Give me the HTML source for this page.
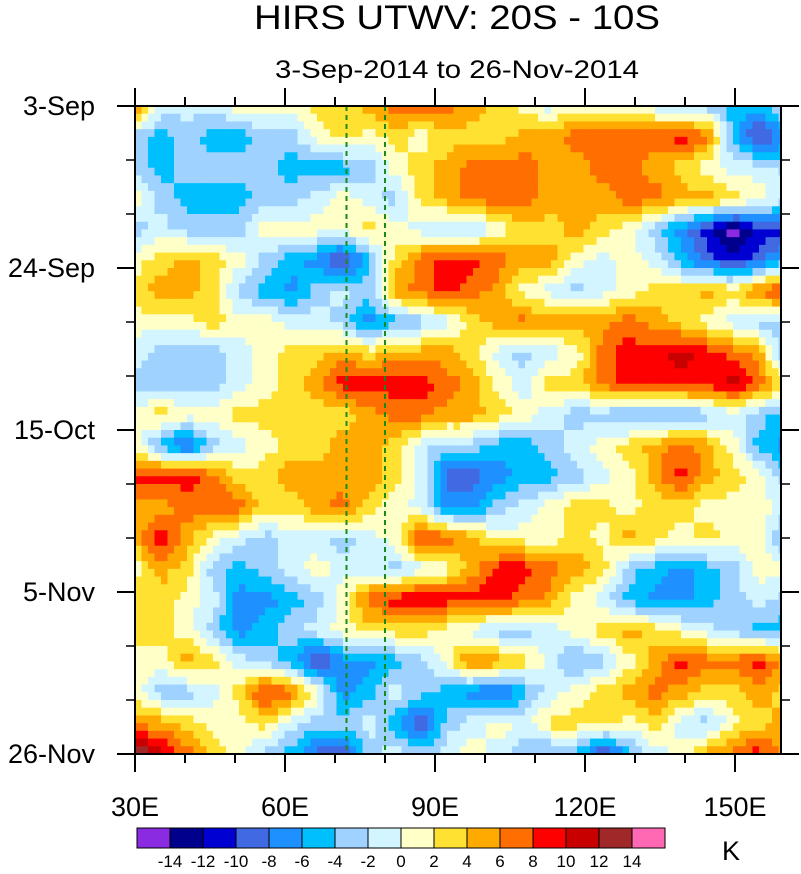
<!DOCTYPE html>
<html><head><meta charset="utf-8">
<style>
html,body{margin:0;padding:0;background:#fff;}
body{width:801px;height:869px;overflow:hidden;font-family:"Liberation Sans",Arial,sans-serif;}
svg text{font-family:"Liberation Sans",Arial,sans-serif;fill:#000;}
</style></head>
<body>
<svg id="chart" width="801" height="869" viewBox="0 0 801 869" xmlns="http://www.w3.org/2000/svg">
  <text x="457" y="29" font-size="34" text-anchor="middle" textLength="406" lengthAdjust="spacingAndGlyphs">HIRS UTWV: 20S - 10S</text>
  <text x="457" y="78" font-size="25" text-anchor="middle" textLength="364" lengthAdjust="spacingAndGlyphs">3-Sep-2014 to 26-Nov-2014</text>
  <defs><clipPath id="plotclip"><rect x="135" y="106" width="646" height="648"/></clipPath></defs>
  <g id="cells" clip-path="url(#plotclip)"></g>
  <g id="refs"></g>
  <rect x="135" y="106" width="646" height="648" fill="none" stroke="#000" stroke-width="2"/>
  <g id="axes"></g>
  <g id="cbar"></g>
  <text x="731" y="860" font-size="27" text-anchor="middle">K</text>
</svg>
<script>
// ---- data ----
const lons = [30,35.2,40.4,45.6,50.8,56,61.2,66.4,71.6,76.8,82,87.2,92.4,97.6,102.8,108,113.2,118.4,123.6,128.8,134,139.2,144.4,149.6,154.8,160];
const days = [0,4,8,12,16,20,24,28,32,36,40,44,48,52,56,60,64,68,72,76,80,84];
const tw = [
[7,-1,-1,-1,1,1,1,3,3,5,7,7,7,5,3,1,-1,1,-1,-1,-1,-3,-3,-5,-5,-1],
[-3,-5,-3,-5,-5,-3,-3,1,3,1,3,1,3,3,3,5,5,7,7,7,7,9,7,-5,-11,-7],
[-3,-5,-3,-3,-3,-3,-5,-5,-5,-3,1,3,5,7,7,7,5,5,7,7,5,3,1,-1,-1,-3],
[1,-3,-5,-5,-5,-3,-3,-1,1,-1,-3,3,5,7,7,7,5,5,5,7,7,5,5,3,1,-1],
[-3,-1,-3,-3,-3,1,1,1,1,3,1,-1,-3,-3,1,3,3,5,3,1,-3,-7,-11,-15,-11,-11],
[1,3,5,3,1,-3,-5,-7,-11,-5,3,7,9,9,7,5,5,1,-1,1,-1,-5,-9,-11,-9,-5],
[3,5,5,3,-3,-5,-7,-3,-1,-3,5,7,9,7,5,1,-1,-3,-1,1,3,3,5,3,7,9],
[1,1,1,3,1,1,-1,-1,-3,-7,-5,-3,-1,3,5,7,5,5,5,7,5,3,1,-1,-3,-3],
[-1,-3,-3,-3,-1,1,3,3,5,3,5,5,5,3,-1,-3,-1,1,7,9,9,11,9,7,5,-5],
[-3,-3,-3,-3,-1,1,3,5,9,9,9,9,7,5,1,-1,3,3,7,9,9,9,9,11,7,3],
[1,3,1,1,3,3,3,3,3,5,7,7,5,5,3,1,-1,-3,-3,-5,-5,-5,-3,-1,-3,-5],
[1,-5,-9,-3,-1,1,3,3,5,5,3,-1,-3,-3,-5,-5,-3,-1,1,3,5,7,5,1,-5,-7],
[9,9,9,7,3,3,5,5,5,5,3,-1,-9,-9,-7,-5,-5,-3,-1,1,5,9,5,3,1,-3],
[5,5,7,7,7,3,3,5,7,3,1,-1,-7,-7,-3,-1,1,3,3,1,3,3,1,1,1,-1],
[5,9,5,1,-1,-3,-1,-1,-3,-1,1,9,7,5,1,1,1,3,1,5,3,1,3,1,1,-5],
[1,5,3,-3,-5,-3,-1,1,-1,-1,-3,-1,1,5,9,9,7,5,3,-3,-5,-7,-5,-3,1,1],
[3,3,1,-1,-7,-7,-5,-3,1,7,9,11,9,9,9,7,5,1,-1,-5,-7,-7,-5,-3,-1,-3],
[3,3,1,-3,-7,-5,-3,-1,1,3,3,3,1,-1,-3,-3,-1,1,3,5,3,1,-1,-3,-5,-5],
[1,1,5,3,-1,-3,-5,-11,-7,-7,-5,-3,1,7,5,3,-1,-5,-3,1,5,9,7,7,9,5],
[1,-3,-3,-1,3,9,7,1,-7,-5,-1,-3,-5,-7,-9,-5,-1,1,3,5,7,5,3,3,5,3],
[5,5,3,1,1,3,-1,-3,-3,-1,-5,-11,-3,-1,1,-1,3,3,3,1,3,-1,-3,1,3,5],
[15,11,7,3,1,-3,-5,-9,-11,-3,-1,-3,-1,1,-1,-3,-5,-5,-11,-5,-1,1,5,7,9,5]
];
const levels = [-14,-12,-10,-8,-6,-4,-2,0,2,4,6,8,10,12,14];
const levelLabels = ["-14","-12","-10","-8","-6","-4","-2","0","2","4","6","8","10","12","14"];
const colors = ["#8a2be2","#00008c","#0000d2","#4169e1","#1e90ff","#00bfff","#a0d2ff","#d2f5ff","#ffffc8","#ffe132","#ffaa00","#ff6e00","#ff0000","#c80000","#a02828","#ff69b4"];
const refLons = [72.3,80];
const xTickLons = [30,40,50,60,70,80,90,100,110,120,130,140,150];
const xLabelLons = [30,60,90,120,150];
const xLabels = ["30E","60E","90E","120E","150E"];
const yLabelDays = [0,21,42,63,84];
const yLabels = ["3-Sep","24-Sep","15-Oct","5-Nov","26-Nov"];
const yMinorDays = [7,14,28,35,49,56,70,77];

// ---- scales ----
const X0=135, X1=781, Y0=106, Y1=754;
const xs = lon => X0 + (lon-30)*5.0;
const ys = d => Y0 + d*(Y1-Y0)/84;
function colorOf(v){let i=0;while(i<levels.length && v>=levels[i]) i++;return colors[i];}
const NS="http://www.w3.org/2000/svg";
function mk(tag,attrs,parent){const e=document.createElementNS(NS,tag);for(const k in attrs)e.setAttribute(k,attrs[k]);parent.appendChild(e);return e;}

// ---- field (bilinear subdivision of the grid for smoother contours) ----
const cells=document.getElementById('cells');
const SUB=4;
function val(lon,day){
  let fi=0;
  if(lon<=lons[0]) fi=0; else if(lon>=lons[lons.length-1]) fi=lons.length-1;
  else { let k=0; while(lons[k+1]<lon) k++; fi=k+(lon-lons[k])/(lons[k+1]-lons[k]); }
  let fj=(day-days[0])/(days[1]-days[0]);
  fj=Math.max(0,Math.min(days.length-1,fj));
  const i0=Math.min(Math.floor(fi),lons.length-2), j0=Math.min(Math.floor(fj),days.length-2);
  const a=fi-i0, b=fj-j0;
  return (1-a)*(1-b)*tw[j0][i0]+a*(1-b)*tw[j0][i0+1]+(1-a)*b*tw[j0+1][i0]+a*b*tw[j0+1][i0+1];
}
for(let j=0;j<days.length;j++){
  const dday=days[1]-days[0];
  for(let i=0;i<lons.length;i++){
    const dl = i<lons.length-1 ? lons[i+1]-lons[i] : lons[i]-lons[i-1];
    for(let sj=0;sj<SUB;sj++){
      for(let si=0;si<SUB;si++){
        const l0=lons[i]-dl/2+si*dl/SUB, d0=days[j]-dday/2+sj*dday/SUB;
        const v=val(l0+dl/SUB/2,d0+dday/SUB/2);
        const x=xs(l0), y=ys(d0);
        const r=mk('rect',{x:x.toFixed(2),y:y.toFixed(2),width:(xs(l0+dl/SUB)-x+0.6).toFixed(2),height:(ys(d0+dday/SUB)-y+0.6).toFixed(2),fill:colorOf(v)},cells);
        
        
      }
    }
  }
}

// ---- reference lines ----
const refs=document.getElementById('refs');
refLons.forEach(l=>{
  const ln=mk('line',{x1:xs(l),x2:xs(l),y1:Y0,y2:Y1,stroke:'#1a8a1a','stroke-width':2,'stroke-dasharray':'5,4'},refs);
  
  
});

// ---- axes ----
const axes=document.getElementById('axes');
xTickLons.forEach(l=>{
  const major=xLabelLons.includes(l); const L=major?18:9; const x=xs(l);
  const t1=mk('line',{x1:x,x2:x,y1:Y1,y2:Y1+L,stroke:'#000','stroke-width':2},axes);
  
  
  const t2=mk('line',{x1:x,x2:x,y1:Y0,y2:Y0-L,stroke:'#000','stroke-width':2},axes);
  
  
});
xLabelLons.forEach((l,k)=>{
  const t=mk('text',{x:xs(l),y:816,'font-size':27,'text-anchor':'middle'},axes);
  t.textContent=xLabels[k];
  
  
});
yLabelDays.forEach((d,k)=>{
  const y=ys(d);
  const a=mk('line',{x1:X0-18,x2:X0,y1:y,y2:y,stroke:'#000','stroke-width':2},axes);
  
  
  const b=mk('line',{x1:X1,x2:X1+18,y1:y,y2:y,stroke:'#000','stroke-width':2},axes);
  
  
  const t=mk('text',{x:95,y:y+9,'font-size':27,'text-anchor':'end'},axes);
  t.textContent=yLabels[k];
  
  
});
yMinorDays.forEach(d=>{
  const y=ys(d);
  const a=mk('line',{x1:X0-9,x2:X0,y1:y,y2:y,stroke:'#000','stroke-width':1.5},axes);
  
  
  const b=mk('line',{x1:X1,x2:X1+9,y1:y,y2:y,stroke:'#000','stroke-width':1.5},axes);
  
  
});

// ---- colorbar ----
const cbar=document.getElementById('cbar');
const CB0=137, CBW=33, CBY=828, CBH=20;
colors.forEach((c,k)=>{
  const r=mk('rect',{x:CB0+k*CBW,y:CBY,width:CBW,height:CBH,fill:c,stroke:'#000','stroke-width':1},cbar);
  
  
});
levelLabels.forEach((s,k)=>{
  const t=mk('text',{x:CB0+(k+1)*CBW,y:867,'font-size':17,'text-anchor':'middle'},cbar);
  t.textContent=s;
  
  
});
</script>
</body></html>
